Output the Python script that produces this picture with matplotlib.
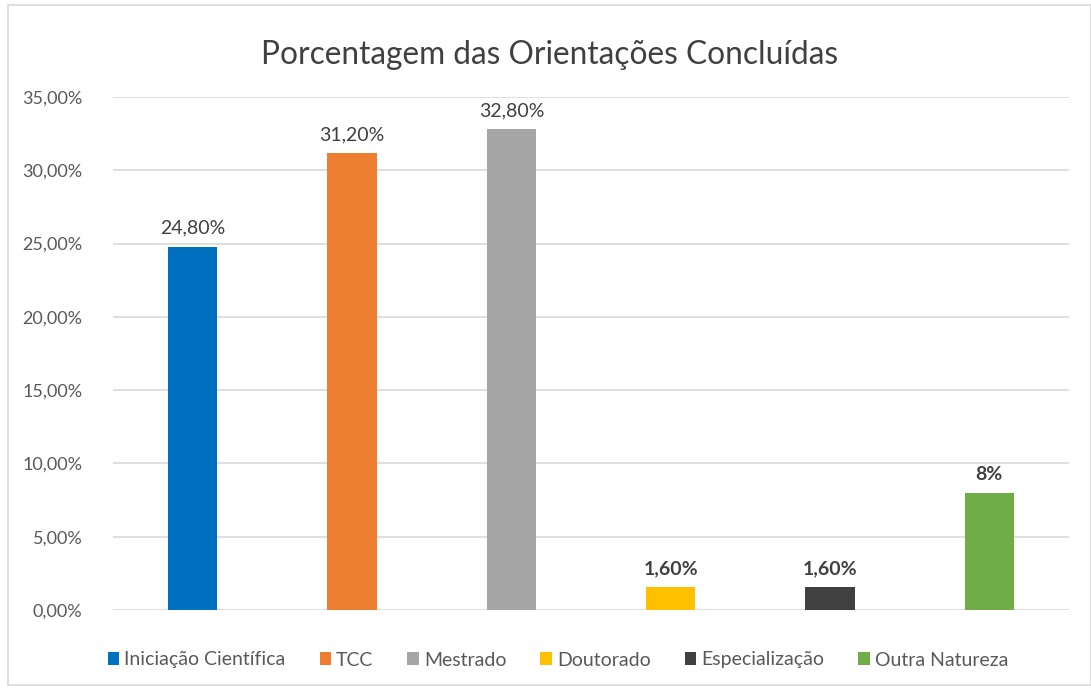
import matplotlib
matplotlib.use("Agg")
import matplotlib.pyplot as plt
from matplotlib.patches import Rectangle, Patch

categories = ["Iniciação Científica", "TCC", "Mestrado", "Doutorado", "Especialização", "Outra Natureza"]
values = [24.8, 31.2, 32.8, 1.6, 1.6, 8.0]
value_labels = ["24,80%", "31,20%", "32,80%", "1,60%", "1,60%", "8%"]
label_bold = [False, False, False, True, True, True]
colors = ["#0070C0", "#ED7D31", "#A5A5A5", "#FFC000", "#404040", "#70AD47"]
yticks = [0, 5, 10, 15, 20, 25, 30, 35]
ytick_labels = ["0,00%", "5,00%", "10,00%", "15,00%", "20,00%", "25,00%", "30,00%", "35,00%"]
title = "Porcentagem das Orientações Concluídas"

plt.rcParams['font.family'] = ['Lato', 'DejaVu Sans']

fig = plt.figure(figsize=(10.91, 6.90), dpi=100)
fig.patch.set_facecolor("white")
ax = fig.add_axes([113/1091, 80/690, 956/1091, 513/690])

x = list(range(len(categories)))
bars = ax.bar(x, values, width=0.31, color=colors, zorder=3)
ax.set_xlim(-0.5, len(categories) - 0.5)
ax.set_ylim(0, 35)
ax.set_yticks(yticks)
ax.set_yticklabels(ytick_labels, fontsize=13, color="#595959")
ax.set_xticks([])
for s in ax.spines.values():
    s.set_visible(False)
ax.tick_params(axis="y", length=0, pad=22)
ax.grid(axis="y", color="#D9D9D9", linewidth=1.2, zorder=0)
ax.set_axisbelow(True)

for b, lab, bold in zip(bars, value_labels, label_bold):
    ax.annotate(lab, (b.get_x() + b.get_width() / 2, b.get_height()),
                xytext=(0, 7), textcoords="offset points", ha="center", va="bottom",
                fontsize=14, color="#404040", fontweight="bold" if bold else "normal")

fig.text(550/1091, 1 - 55/690, title, ha="center", va="center", fontsize=22.8, color="#404040")

handles = [Patch(facecolor=c) for c in colors]
leg = fig.legend(handles, categories, loc="center", bbox_to_anchor=(558/1091, 1 - 660/690),
                 ncol=6, frameon=False, fontsize=14, handlelength=0.6, handleheight=0.6,
                 handletextpad=0.25, columnspacing=1.75)
for t in leg.get_texts():
    t.set_color("#595959")

fig.patches.append(Rectangle((8/1091, 5/690), 1 - 8/1091, 680/690, transform=fig.transFigure,
                             fill=False, edgecolor="#D9D9D9", linewidth=1.2))

fig.savefig("out.png", dpi=100, facecolor="white")
